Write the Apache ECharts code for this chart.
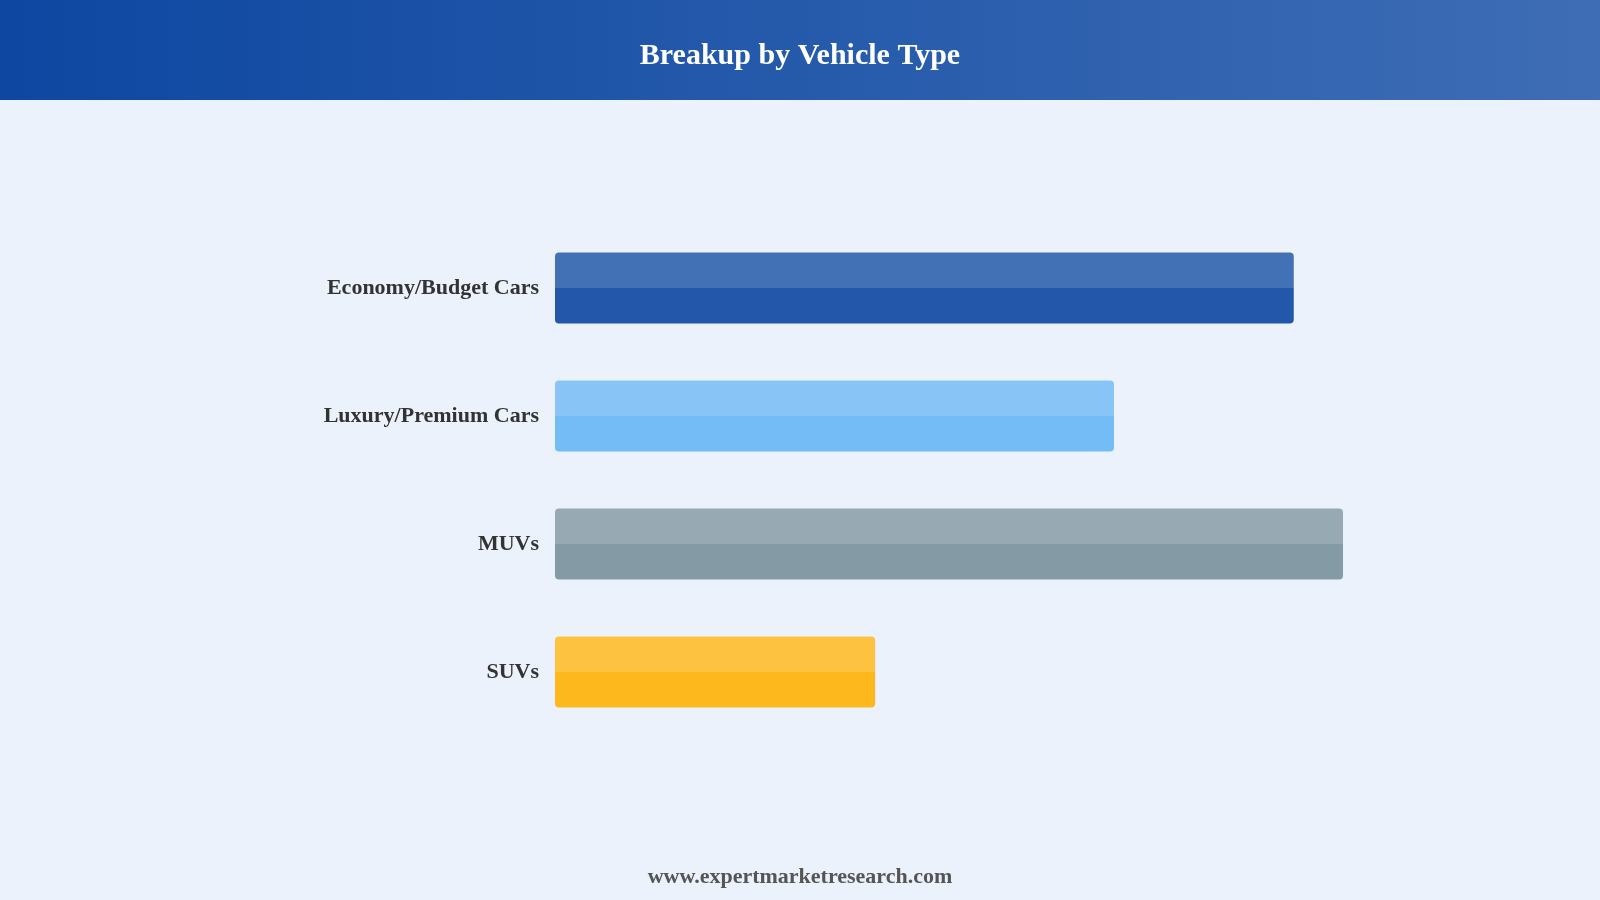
<!DOCTYPE html>
<html>
<head>
<meta charset="utf-8">
<script src="https://cdn.jsdelivr.net/npm/echarts@6/dist/echarts.min.js"></script>
<style>
  html, body { margin: 0; padding: 0; background: #EBF2FC; }
  #main { width: 1600px; height: 900px; }
</style>
</head>
<body>
<div id="main"></div>
<script>
// data
var categories = ['Economy/Budget Cars', 'Luxury/Premium Cars', 'MUVs', 'SUVs'];
var values = [30, 22.7, 32, 13];
var topColors = ['#4371B6', '#89C4F6', '#97A9B3', '#FDC23F'];
var bottomColors = ['#2357A9', '#73BCF6', '#849BA6', '#FDB81E'];

function halfGradient(top, bottom) {
    return new echarts.graphic.LinearGradient(0, 0, 0, 1, [
        { offset: 0, color: top },
        { offset: 0.5, color: top },
        { offset: 0.5, color: bottom },
        { offset: 1, color: bottom }
    ]);
}

var myChart = echarts.init(document.getElementById('main'));

var barData = [];
for (var i = 0; i < values.length; i++) {
    barData.push({
        value: values[i],
        itemStyle: { color: halfGradient(topColors[i], bottomColors[i]) }
    });
}

var option = {
    backgroundColor: '#EBF2FC',
    animation: false,
    graphic: [
        {
            type: 'rect',
            left: 0, top: 0,
            shape: { width: 1600, height: 100 },
            style: {
                fill: new echarts.graphic.LinearGradient(0, 0, 1, 0, [
                    { offset: 0, color: '#0D47A1' },
                    { offset: 1, color: '#3E6DB5' }
                ])
            },
            z: 0
        },
        {
            type: 'text',
            left: 'center', top: 41,
            style: {
                text: 'Breakup by Vehicle Type',
                fill: '#ffffff',
                font: 'bold 30px "Liberation Serif", serif'
            },
            z: 1
        },
        {
            type: 'text',
            left: 'center', top: 866,
            style: {
                text: 'www.expertmarketresearch.com',
                fill: '#555555',
                font: 'bold 22px "Liberation Serif", serif'
            },
            z: 1
        }
    ],
    grid: {
        left: 555,
        right: 60,
        top: 224,
        bottom: 164,
        containLabel: false
    },
    xAxis: {
        type: 'value',
        min: 0,
        max: 40,
        show: false
    },
    yAxis: {
        type: 'category',
        data: categories,
        inverse: true,
        axisLine: { show: false },
        axisTick: { show: false },
        splitLine: { show: false },
        axisLabel: {
            margin: 16,
            padding: [10, 0, 0, 0],
            color: '#333333',
            fontFamily: '"Liberation Serif", serif',
            fontWeight: 'bold',
            fontSize: 22
        }
    },
    series: [{
        type: 'bar',
        data: barData,
        barWidth: 71,
        itemStyle: { borderRadius: 4 },
        label: { show: false }
    }]
};

myChart.setOption(option);
</script>
</body>
</html>
